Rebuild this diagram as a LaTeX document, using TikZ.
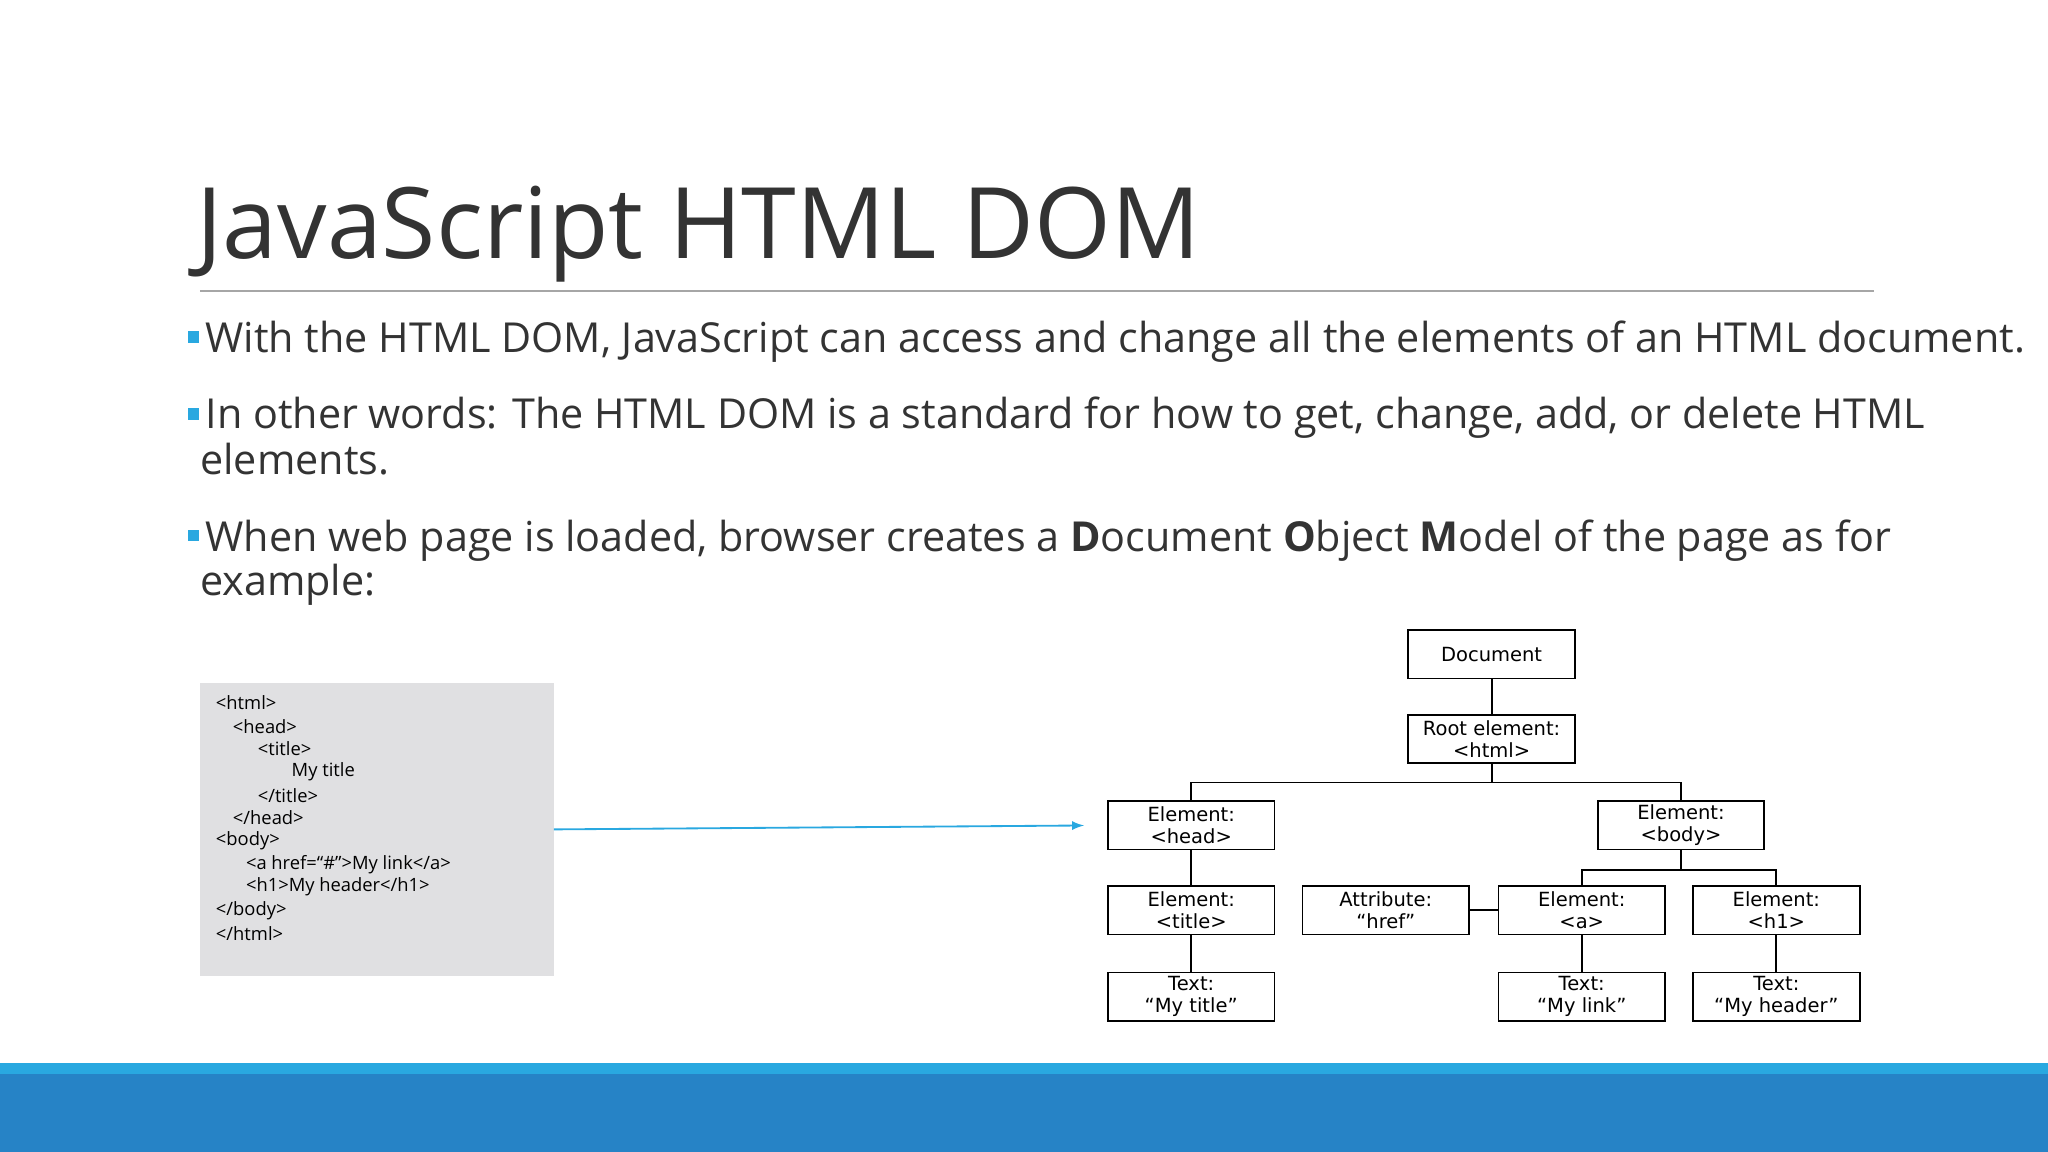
\documentclass[tikz,border=0pt]{standalone}
\usepackage{fontspec}
\setmainfont{Open Sans}
\newfontfamily\treefont{DejaVu Sans}
\usetikzlibrary{positioning}
\definecolor{slideblue}{HTML}{2683C6}
\definecolor{lightblue}{HTML}{29A8E0}
\definecolor{codegray}{HTML}{E0E0E2}
\tikzset{
  domnode/.style={draw, thick, minimum width=72.6pt, minimum height=21pt, inner sep=0pt,
    align=center, font=\treefont\fontsize{8.5}{9.5}\selectfont},
  bullet/.style={fill=lightblue, minimum size=5pt, inner sep=0pt},
  para/.style={anchor=north west, align=left, text width=745pt, inner sep=0pt,
    font=\fontsize{18}{20}\selectfont, text=black!80}
}
\begin{document}
\begin{tikzpicture}[x=0.02cm, y=-0.02cm]
  \useasboundingbox (0,0) rectangle (1568,882);
  % title
  \node[anchor=base west, inner sep=0pt, font=\fontsize{43}{45}\selectfont\addfontfeature{FakeBold=0}, text=black!80] (title) at (150,198) {JavaScript HTML DOM};
  \draw[black!35, thick] (153,223) -- (1435,223);

  % bullets
  \node[bullet] (b1) at (148,258) {};
  \node[bullet] (b2) at (148,317) {};
  \node[bullet] (b3) at (148,410) {};
  \node[anchor=base west, inner sep=0pt, font=\fontsize{18}{20}\selectfont, text=black!80] (t1) at (157,270) {With the HTML DOM, JavaScript can access and change all the elements of an HTML document.};
  \node[anchor=base west, inner sep=0pt, font=\fontsize{18}{20}\selectfont, text=black!80] (t2) at (157,328) {In other words: The HTML DOM is a standard for how to get, change, add, or delete HTML};
  \node[anchor=base west, inner sep=0pt, font=\fontsize{18}{20}\selectfont, text=black!80] (t2b) at (153,363) {elements.};
  \node[anchor=base west, inner sep=0pt, font=\fontsize{18}{20}\selectfont, text=black!80] (t3) at (157,422) {When web page is loaded, browser creates a \textbf{D}ocument \textbf{O}bject \textbf{M}odel of the page as for};
  \node[anchor=base west, inner sep=0pt, font=\fontsize{18}{20}\selectfont, text=black!80] (t3b) at (153,456) {example:};

  % code box
  \fill[codegray] (153,523) rectangle (424,747);
  \coordinate (codeout) at (424,635);
  \foreach \x/\y/\t in {165/538/{<html>}, 178/556/{<head>}, 197/573/{<title>}, 223/591/{My title},
      197/609/{</title>}, 178/626/{</head>}, 165/644/{<body>}, 188/662/{<a href=“\#”>My link</a>},
      188/679/{<h1>My header</h1>}, 165/697/{</body>}, 165/715/{</html>}}
    \node[anchor=west, inner sep=0pt, font=\fontsize{8}{9}\selectfont] at (\x,\y) {\t};

  % DOM tree
  \node[domnode] (doc) at (1142,501) {Document};
  \node[domnode] (root) at (1142,566) {Root element:\\<html>};
  \node[domnode] (head) at (912,632) {Element:\\<head>};
  \node[domnode] (body) at (1287,632) {Element:\\<body>};
  \node[domnode] (title2) at (912,697) {Element:\\<title>};
  \node[domnode] (attr) at (1061,697) {Attribute:\\“href”};
  \node[domnode] (a) at (1211,697) {Element:\\<a>};
  \node[domnode] (h1) at (1360,697) {Element:\\<h1>};
  \node[domnode] (txttitle) at (912,763) {Text:\\“My title”};
  \node[domnode] (txtlink) at (1211,763) {Text:\\“My link”};
  \node[domnode] (txthead) at (1360,763) {Text:\\“My header”};

  \draw[thick] (doc) -- (root);
  \draw[thick] (root.south) -- ++(0,14) -| (head.north);
  \draw[thick] (root.south) -- ++(0,14) -| (body.north);
  \draw[thick] (body.south) -- ++(0,15) -| (a.north);
  \draw[thick] (body.south) -- ++(0,15) -| (h1.north);
  \draw[thick] (head) -- (title2);
  \draw[thick] (title2) -- (txttitle);
  \draw[thick] (attr) -- (a);
  \draw[thick] (a) -- (txtlink);
  \draw[thick] (h1) -- (txthead);

  \draw[lightblue, thick, -latex] (codeout) -- ([xshift=-10pt]head.west);

  % footer bands
  \fill[lightblue] (0,814) rectangle (1568,822);
  \fill[slideblue] (0,822) rectangle (1568,882);
\end{tikzpicture}
\end{document}
